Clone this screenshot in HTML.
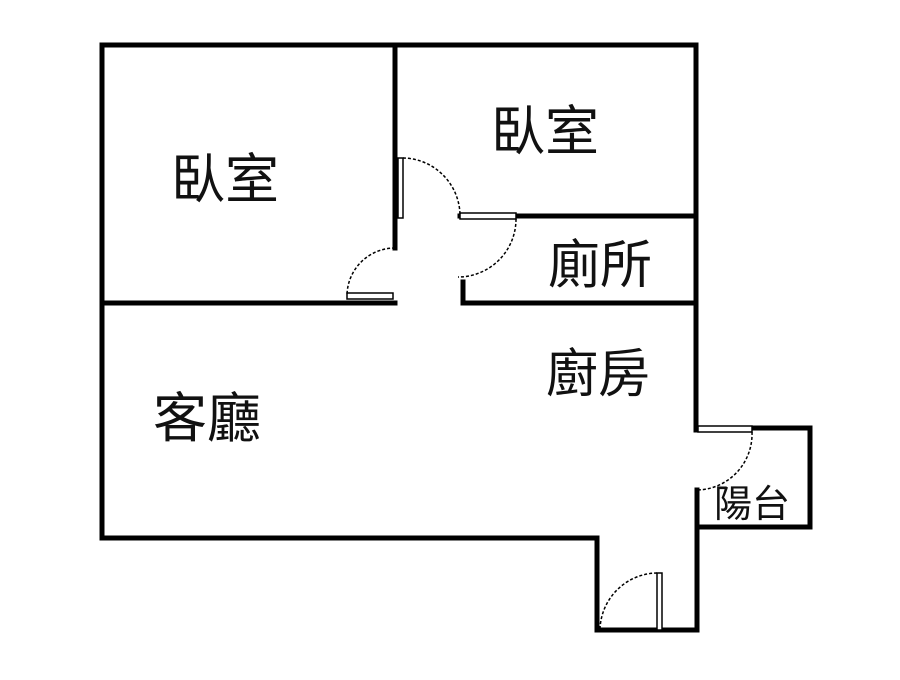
<!DOCTYPE html>
<html><head><meta charset="utf-8"><style>
body{margin:0;background:#fff}
svg text{font-family:"Liberation Sans","Noto Sans CJK TC",sans-serif;fill:#111}
</style></head><body>
<svg width="900" height="675" viewBox="0 0 900 675" xmlns="http://www.w3.org/2000/svg">
<g stroke="#000" stroke-width="5" fill="none" stroke-linecap="square">
<polyline points="395,248 395,45 102,45 102,538 597,538 597,630 697,630 697,490"/>
<polyline points="395,45 696,45 696,430"/>
<line x1="102" y1="303" x2="395" y2="303"/>
<polyline points="460,216 696,216"/>
<polyline points="463,282 463,303 696,303"/>
<polyline points="697,428 810,428 810,527 697,527"/>
</g>
<g stroke="#000" stroke-width="1.5" fill="#fff">
<rect x="398" y="158" width="5" height="60"/>
<rect x="460" y="213" width="56" height="6"/>
<rect x="347" y="293" width="46" height="6"/>
<rect x="698" y="426" width="54" height="6"/>
<rect x="657" y="573" width="5" height="57"/>
</g>
<g stroke="#000" stroke-width="1.5" fill="none" stroke-dasharray="3,2">
<path d="M403,158 A58,58 0 0 1 460,215"/>
<path d="M516,219 A58,58 0 0 1 458,277"/>
<path d="M395,248 A48,48 0 0 0 347,295"/>
<path d="M752,432 A56,56 0 0 1 697,490"/>
<path d="M657,573 A58,58 0 0 0 600,630"/>
</g>
<text x="225" y="198" font-size="54" text-anchor="middle">臥室</text>
<text x="545" y="150" font-size="54" text-anchor="middle">臥室</text>
<text x="600" y="283" font-size="52" text-anchor="middle">廁所</text>
<text x="598" y="392" font-size="52" text-anchor="middle">廚房</text>
<text x="207" y="437" font-size="54" text-anchor="middle">客廳</text>
<text x="752" y="517" font-size="38" text-anchor="middle">陽台</text>
</svg>
</body></html>
